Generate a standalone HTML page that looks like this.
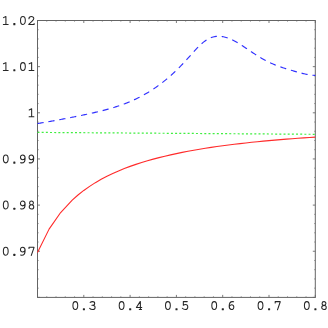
<!DOCTYPE html>
<html><head><meta charset="utf-8"><title>plot</title>
<style>
html,body{margin:0;padding:0;background:#fff;}
body{width:328px;height:328px;overflow:hidden;font-family:"Liberation Mono",monospace;}
svg{display:block}
</style></head><body>
<svg width="328" height="328" viewBox="0 0 328 328">
<rect width="328" height="328" fill="#fff"/>
<path d="M37.50,297.4 v-2.5 M37.50,20.5 v2.5 M83.80,297.4 v-2.5 M83.80,20.5 v2.5 M130.10,297.4 v-2.5 M130.10,20.5 v2.5 M176.40,297.4 v-2.5 M176.40,20.5 v2.5 M222.70,297.4 v-2.5 M222.70,20.5 v2.5 M269.00,297.4 v-2.5 M269.00,20.5 v2.5 M315.30,297.4 v-2.5 M315.30,20.5 v2.5 M37.5,297.40 h2.5 M315.3,297.40 h-2.5 M37.5,251.25 h2.5 M315.3,251.25 h-2.5 M37.5,205.10 h2.5 M315.3,205.10 h-2.5 M37.5,158.95 h2.5 M315.3,158.95 h-2.5 M37.5,112.80 h2.5 M315.3,112.80 h-2.5 M37.5,66.65 h2.5 M315.3,66.65 h-2.5 M37.5,20.50 h2.5 M315.3,20.50 h-2.5" stroke="#646464" stroke-width="0.85" fill="none"/>
<path d="M46.76,297.4 v-1.3 M46.76,20.5 v1.3 M56.02,297.4 v-1.3 M56.02,20.5 v1.3 M65.28,297.4 v-1.3 M65.28,20.5 v1.3 M74.54,297.4 v-1.3 M74.54,20.5 v1.3 M93.06,297.4 v-1.3 M93.06,20.5 v1.3 M102.32,297.4 v-1.3 M102.32,20.5 v1.3 M111.58,297.4 v-1.3 M111.58,20.5 v1.3 M120.84,297.4 v-1.3 M120.84,20.5 v1.3 M139.36,297.4 v-1.3 M139.36,20.5 v1.3 M148.62,297.4 v-1.3 M148.62,20.5 v1.3 M157.88,297.4 v-1.3 M157.88,20.5 v1.3 M167.14,297.4 v-1.3 M167.14,20.5 v1.3 M185.66,297.4 v-1.3 M185.66,20.5 v1.3 M194.92,297.4 v-1.3 M194.92,20.5 v1.3 M204.18,297.4 v-1.3 M204.18,20.5 v1.3 M213.44,297.4 v-1.3 M213.44,20.5 v1.3 M231.96,297.4 v-1.3 M231.96,20.5 v1.3 M241.22,297.4 v-1.3 M241.22,20.5 v1.3 M250.48,297.4 v-1.3 M250.48,20.5 v1.3 M259.74,297.4 v-1.3 M259.74,20.5 v1.3 M278.26,297.4 v-1.3 M278.26,20.5 v1.3 M287.52,297.4 v-1.3 M287.52,20.5 v1.3 M296.78,297.4 v-1.3 M296.78,20.5 v1.3 M306.04,297.4 v-1.3 M306.04,20.5 v1.3 M37.5,288.17 h1.3 M315.3,288.17 h-1.3 M37.5,278.94 h1.3 M315.3,278.94 h-1.3 M37.5,269.71 h1.3 M315.3,269.71 h-1.3 M37.5,260.48 h1.3 M315.3,260.48 h-1.3 M37.5,242.02 h1.3 M315.3,242.02 h-1.3 M37.5,232.79 h1.3 M315.3,232.79 h-1.3 M37.5,223.56 h1.3 M315.3,223.56 h-1.3 M37.5,214.33 h1.3 M315.3,214.33 h-1.3 M37.5,195.87 h1.3 M315.3,195.87 h-1.3 M37.5,186.64 h1.3 M315.3,186.64 h-1.3 M37.5,177.41 h1.3 M315.3,177.41 h-1.3 M37.5,168.18 h1.3 M315.3,168.18 h-1.3 M37.5,149.72 h1.3 M315.3,149.72 h-1.3 M37.5,140.49 h1.3 M315.3,140.49 h-1.3 M37.5,131.26 h1.3 M315.3,131.26 h-1.3 M37.5,122.03 h1.3 M315.3,122.03 h-1.3 M37.5,103.57 h1.3 M315.3,103.57 h-1.3 M37.5,94.34 h1.3 M315.3,94.34 h-1.3 M37.5,85.11 h1.3 M315.3,85.11 h-1.3 M37.5,75.88 h1.3 M315.3,75.88 h-1.3 M37.5,57.42 h1.3 M315.3,57.42 h-1.3 M37.5,48.19 h1.3 M315.3,48.19 h-1.3 M37.5,38.96 h1.3 M315.3,38.96 h-1.3 M37.5,29.73 h1.3 M315.3,29.73 h-1.3" stroke="#646464" stroke-width="0.55" fill="none"/>
<rect x="37.5" y="20.5" width="277.8" height="276.9" fill="none" stroke="#646464" stroke-width="1"/>
<path d="M37.50,252.48 L49.08,229.12 L60.65,212.54 L72.22,200.12 L78.01,194.99 L83.80,190.43 L89.59,186.34 L95.37,182.65 L101.16,179.30 L106.95,176.26 L112.74,173.48 L118.52,170.92 L124.31,168.56 L130.10,166.39 L135.89,164.37 L141.67,162.50 L147.46,160.76 L153.25,159.13 L159.04,157.61 L164.82,156.19 L170.61,154.85 L176.40,153.59 L182.19,152.41 L187.97,151.29 L193.76,150.24 L199.55,149.24 L205.34,148.30 L211.12,147.41 L216.91,146.57 L222.70,145.77 L228.49,145.01 L234.27,144.28 L240.06,143.60 L245.85,142.94 L251.64,142.32 L257.42,141.73 L263.21,141.16 L269.00,140.62 L274.79,140.11 L280.57,139.62 L286.36,139.15 L292.15,138.70 L297.94,138.27 L303.73,137.87 L309.51,137.48 L315.30,137.10" stroke="#ff2a2a" stroke-width="1.1" fill="none" stroke-linejoin="round"/>
<path d="M37.50,123.50 L38.43,123.36 L39.36,123.21 L40.29,123.06 L41.22,122.91 L42.15,122.76 L43.07,122.61 L44.00,122.45 L44.93,122.30 L45.86,122.14 L46.79,121.98 L47.72,121.82 L48.65,121.66 L49.58,121.49 L50.51,121.33 L51.44,121.16 L52.37,121.00 L53.29,120.83 L54.22,120.66 L55.15,120.49 L56.08,120.32 L57.01,120.15 L57.94,119.98 L58.87,119.80 L59.80,119.63 L60.73,119.46 L61.66,119.28 L62.59,119.11 L63.51,118.93 L64.44,118.75 L65.37,118.58 L66.30,118.40 L67.23,118.22 L68.16,118.04 L69.09,117.86 L70.02,117.68 L70.95,117.49 L71.88,117.31 L72.81,117.13 L73.73,116.94 L74.66,116.76 L75.59,116.57 L76.52,116.39 L77.45,116.20 L78.38,116.01 L79.31,115.82 L80.24,115.63 L81.17,115.44 L82.10,115.25 L83.03,115.05 L83.95,114.86 L84.88,114.66 L85.81,114.47 L86.74,114.27 L87.67,114.07 L88.60,113.86 L89.53,113.66 L90.46,113.46 L91.39,113.25 L92.32,113.04 L93.25,112.83 L94.17,112.62 L95.10,112.40 L96.03,112.18 L96.96,111.97 L97.89,111.74 L98.82,111.52 L99.75,111.29 L100.68,111.06 L101.61,110.83 L102.54,110.60 L103.47,110.36 L104.39,110.12 L105.32,109.87 L106.25,109.62 L107.18,109.37 L108.11,109.11 L109.04,108.86 L109.97,108.59 L110.90,108.32 L111.83,108.05 L112.76,107.78 L113.69,107.49 L114.62,107.21 L115.54,106.92 L116.47,106.62 L117.40,106.32 L118.33,106.01 L119.26,105.70 L120.19,105.38 L121.12,105.06 L122.05,104.73 L122.98,104.39 L123.91,104.05 L124.84,103.70 L125.76,103.35 L126.69,102.99 L127.62,102.62 L128.55,102.24 L129.48,101.85 L130.41,101.46 L131.34,101.06 L132.27,100.66 L133.20,100.24 L134.13,99.82 L135.06,99.39 L135.98,98.95 L136.91,98.50 L137.84,98.05 L138.77,97.58 L139.70,97.11 L140.63,96.63 L141.56,96.14 L142.49,95.64 L143.42,95.13 L144.35,94.61 L145.28,94.08 L146.20,93.54 L147.13,93.00 L148.06,92.44 L148.99,91.87 L149.92,91.30 L150.85,90.71 L151.78,90.11 L152.71,89.50 L153.64,88.89 L154.57,88.26 L155.50,87.62 L156.42,86.97 L157.35,86.31 L158.28,85.64 L159.21,84.96 L160.14,84.27 L161.07,83.57 L162.00,82.85 L162.93,82.13 L163.86,81.39 L164.79,80.64 L165.72,79.88 L166.64,79.11 L167.57,78.33 L168.50,77.54 L169.43,76.73 L170.36,75.92 L171.29,75.09 L172.22,74.25 L173.15,73.40 L174.08,72.54 L175.01,71.66 L175.94,70.77 L176.86,69.88 L177.79,68.97 L178.72,68.04 L179.65,67.11 L180.58,66.16 L181.51,65.20 L182.44,64.23 L183.37,63.25 L184.30,62.26 L185.23,61.25 L186.16,60.24 L187.08,59.21 L188.01,58.18 L188.94,57.14 L189.87,56.10 L190.80,55.06 L191.73,54.01 L192.66,52.97 L193.59,51.94 L194.52,50.91 L195.45,49.90 L196.38,48.90 L197.30,47.92 L198.23,46.96 L199.16,46.03 L200.09,45.13 L201.02,44.27 L201.95,43.44 L202.88,42.65 L203.81,41.90 L204.74,41.20 L205.67,40.54 L206.60,39.93 L207.52,39.36 L208.45,38.84 L209.38,38.37 L210.31,37.95 L211.24,37.58 L212.17,37.25 L213.10,36.98 L214.03,36.75 L214.96,36.56 L215.89,36.42 L216.82,36.33 L217.74,36.27 L218.67,36.26 L219.60,36.28 L220.53,36.35 L221.46,36.45 L222.39,36.59 L223.32,36.76 L224.25,36.96 L225.18,37.20 L226.11,37.47 L227.04,37.76 L227.96,38.09 L228.89,38.44 L229.82,38.82 L230.75,39.22 L231.68,39.64 L232.61,40.09 L233.54,40.56 L234.47,41.04 L235.40,41.55 L236.33,42.07 L237.26,42.61 L238.18,43.16 L239.11,43.73 L240.04,44.30 L240.97,44.89 L241.90,45.49 L242.83,46.09 L243.76,46.70 L244.69,47.32 L245.62,47.94 L246.55,48.56 L247.48,49.18 L248.41,49.81 L249.33,50.44 L250.26,51.06 L251.19,51.68 L252.12,52.30 L253.05,52.91 L253.98,53.52 L254.91,54.13 L255.84,54.72 L256.77,55.31 L257.70,55.90 L258.63,56.47 L259.55,57.04 L260.48,57.59 L261.41,58.14 L262.34,58.67 L263.27,59.20 L264.20,59.71 L265.13,60.22 L266.06,60.71 L266.99,61.19 L267.92,61.66 L268.85,62.11 L269.77,62.56 L270.70,62.99 L271.63,63.42 L272.56,63.83 L273.49,64.23 L274.42,64.62 L275.35,65.00 L276.28,65.36 L277.21,65.72 L278.14,66.07 L279.07,66.41 L279.99,66.74 L280.92,67.06 L281.85,67.38 L282.78,67.69 L283.71,67.99 L284.64,68.29 L285.57,68.58 L286.50,68.87 L287.43,69.15 L288.36,69.44 L289.29,69.72 L290.21,69.99 L291.14,70.27 L292.07,70.54 L293.00,70.81 L293.93,71.08 L294.86,71.34 L295.79,71.60 L296.72,71.86 L297.65,72.12 L298.58,72.37 L299.51,72.62 L300.43,72.87 L301.36,73.11 L302.29,73.34 L303.22,73.57 L304.15,73.79 L305.08,73.99 L306.01,74.19 L306.94,74.38 L307.87,74.56 L308.80,74.72 L309.73,74.87 L310.65,75.00 L311.58,75.12 L312.51,75.21 L313.44,75.29 L314.37,75.34 L315.30,75.36" stroke="#3030ff" stroke-width="1.15" fill="none" stroke-dasharray="6.2 4.87"/>
<path d="M37.5,132.4 L315.3,134.3" stroke="#40ee40" stroke-width="1.2" fill="none" stroke-dasharray="2 2.17"/>
<g fill="none" stroke="#262626" stroke-width="1.05" stroke-linecap="round" stroke-linejoin="round"><path transform="translate(75.32,309.90)" d="M0,-8.3 C1.65,-8.3 2.4,-6.6 2.4,-4.33 C2.4,-2.05 1.65,-0.35 0,-0.35 C-1.65,-0.35 -2.4,-2.05 -2.4,-4.33 C-2.4,-6.6 -1.65,-8.3 0,-8.3 Z"/><rect x="82.85" y="308.25" width="2.1" height="2.1" rx="0.5" fill="#262626" stroke="none"/><path transform="translate(92.48,309.90)" d="M-2.3,-7.5 C-1.7,-8.0 -0.9,-8.3 0,-8.3 C1.3,-8.3 2.2,-7.5 2.2,-6.45 C2.2,-5.4 1.3,-4.65 0,-4.65 L-0.6,-4.65 M0,-4.65 C1.5,-4.65 2.6,-3.8 2.6,-2.5 C2.6,-1.2 1.5,-0.35 0,-0.35 C-1.1,-0.35 -2.1,-0.7 -2.8,-1.5"/><path transform="translate(121.62,309.90)" d="M0,-8.3 C1.65,-8.3 2.4,-6.6 2.4,-4.33 C2.4,-2.05 1.65,-0.35 0,-0.35 C-1.65,-0.35 -2.4,-2.05 -2.4,-4.33 C-2.4,-6.6 -1.65,-8.3 0,-8.3 Z"/><rect x="129.15" y="308.25" width="2.1" height="2.1" rx="0.5" fill="#262626" stroke="none"/><path transform="translate(138.78,309.90)" d="M1.6,-0.35 L1.6,-8.3 L1.35,-8.3 L-2.4,-2.45 L3.0,-2.45 M0.5,-0.35 L2.8,-0.35"/><path transform="translate(167.92,309.90)" d="M0,-8.3 C1.65,-8.3 2.4,-6.6 2.4,-4.33 C2.4,-2.05 1.65,-0.35 0,-0.35 C-1.65,-0.35 -2.4,-2.05 -2.4,-4.33 C-2.4,-6.6 -1.65,-8.3 0,-8.3 Z"/><rect x="175.45" y="308.25" width="2.1" height="2.1" rx="0.5" fill="#262626" stroke="none"/><path transform="translate(185.08,309.90)" d="M2.2,-8.3 L-1.75,-8.3 L-1.75,-4.6 C-1.1,-5.15 -0.3,-5.45 0.45,-5.45 C1.85,-5.45 2.7,-4.4 2.7,-2.95 C2.7,-1.5 1.7,-0.35 0.2,-0.35 C-1.0,-0.35 -2.0,-0.8 -2.75,-1.65"/><path transform="translate(214.22,309.90)" d="M0,-8.3 C1.65,-8.3 2.4,-6.6 2.4,-4.33 C2.4,-2.05 1.65,-0.35 0,-0.35 C-1.65,-0.35 -2.4,-2.05 -2.4,-4.33 C-2.4,-6.6 -1.65,-8.3 0,-8.3 Z"/><rect x="221.75" y="308.25" width="2.1" height="2.1" rx="0.5" fill="#262626" stroke="none"/><path transform="translate(231.38,309.90)" d="M2.25,-8.1 C1.9,-8.25 1.5,-8.3 1.1,-8.3 C-0.9,-8.3 -2.2,-6.3 -2.2,-3.6 C-2.2,-1.5 -1.3,-0.35 0.2,-0.35 C1.55,-0.35 2.45,-1.4 2.45,-2.8 C2.45,-4.2 1.55,-5.15 0.3,-5.15 C-0.9,-5.15 -1.9,-4.3 -2.2,-3.0"/><path transform="translate(260.52,309.90)" d="M0,-8.3 C1.65,-8.3 2.4,-6.6 2.4,-4.33 C2.4,-2.05 1.65,-0.35 0,-0.35 C-1.65,-0.35 -2.4,-2.05 -2.4,-4.33 C-2.4,-6.6 -1.65,-8.3 0,-8.3 Z"/><rect x="268.05" y="308.25" width="2.1" height="2.1" rx="0.5" fill="#262626" stroke="none"/><path transform="translate(277.68,309.90)" d="M-2.5,-7.0 L-2.5,-8.3 L2.5,-8.3 L2.5,-7.9 L-0.2,-0.1"/><path transform="translate(306.82,309.90)" d="M0,-8.3 C1.65,-8.3 2.4,-6.6 2.4,-4.33 C2.4,-2.05 1.65,-0.35 0,-0.35 C-1.65,-0.35 -2.4,-2.05 -2.4,-4.33 C-2.4,-6.6 -1.65,-8.3 0,-8.3 Z"/><rect x="314.35" y="308.25" width="2.1" height="2.1" rx="0.5" fill="#262626" stroke="none"/><path transform="translate(323.98,309.90)" d="M0,-4.55 C-1.15,-4.55 -1.9,-5.35 -1.9,-6.42 C-1.9,-7.5 -1.15,-8.3 0,-8.3 C1.15,-8.3 1.9,-7.5 1.9,-6.42 C1.9,-5.35 1.15,-4.55 0,-4.55 C1.3,-4.55 2.25,-3.65 2.25,-2.45 C2.25,-1.25 1.3,-0.35 0,-0.35 C-1.3,-0.35 -2.25,-1.25 -2.25,-2.45 C-2.25,-3.65 -1.3,-4.55 0,-4.55"/><path transform="translate(5.76,24.75)" d="M-2.3,-7.1 L0.15,-8.3 L0.15,-0.35 M-2.4,-0.35 L2.4,-0.35"/><rect x="13.29" y="23.10" width="2.1" height="2.1" rx="0.5" fill="#262626" stroke="none"/><path transform="translate(22.92,24.75)" d="M0,-8.3 C1.65,-8.3 2.4,-6.6 2.4,-4.33 C2.4,-2.05 1.65,-0.35 0,-0.35 C-1.65,-0.35 -2.4,-2.05 -2.4,-4.33 C-2.4,-6.6 -1.65,-8.3 0,-8.3 Z"/><path transform="translate(31.50,24.75)" d="M-2.55,-6.1 C-2.55,-7.4 -1.45,-8.3 -0.15,-8.3 C1.25,-8.3 2.3,-7.4 2.3,-6.15 C2.3,-5.1 1.6,-4.4 0.4,-3.3 L-2.75,-0.45 L-2.75,-0.35 L2.6,-0.35 L2.6,-1.3"/><path transform="translate(5.76,70.90)" d="M-2.3,-7.1 L0.15,-8.3 L0.15,-0.35 M-2.4,-0.35 L2.4,-0.35"/><rect x="13.29" y="69.25" width="2.1" height="2.1" rx="0.5" fill="#262626" stroke="none"/><path transform="translate(22.92,70.90)" d="M0,-8.3 C1.65,-8.3 2.4,-6.6 2.4,-4.33 C2.4,-2.05 1.65,-0.35 0,-0.35 C-1.65,-0.35 -2.4,-2.05 -2.4,-4.33 C-2.4,-6.6 -1.65,-8.3 0,-8.3 Z"/><path transform="translate(31.50,70.90)" d="M-2.3,-7.1 L0.15,-8.3 L0.15,-0.35 M-2.4,-0.35 L2.4,-0.35"/><path transform="translate(31.50,117.05)" d="M-2.3,-7.1 L0.15,-8.3 L0.15,-0.35 M-2.4,-0.35 L2.4,-0.35"/><path transform="translate(5.76,163.20)" d="M0,-8.3 C1.65,-8.3 2.4,-6.6 2.4,-4.33 C2.4,-2.05 1.65,-0.35 0,-0.35 C-1.65,-0.35 -2.4,-2.05 -2.4,-4.33 C-2.4,-6.6 -1.65,-8.3 0,-8.3 Z"/><rect x="13.29" y="161.55" width="2.1" height="2.1" rx="0.5" fill="#262626" stroke="none"/><path transform="translate(22.92,163.20)" d="M -2.25,-0.55 C -1.90,-0.40 -1.50,-0.35 -1.10,-0.35 C 0.90,-0.35 2.20,-2.35 2.20,-5.05 C 2.20,-7.15 1.30,-8.30 -0.20,-8.30 C -1.55,-8.30 -2.45,-7.25 -2.45,-5.85 C -2.45,-4.45 -1.55,-3.50 -0.30,-3.50 C 0.90,-3.50 1.90,-4.35 2.20,-5.65"/><path transform="translate(31.50,163.20)" d="M -2.25,-0.55 C -1.90,-0.40 -1.50,-0.35 -1.10,-0.35 C 0.90,-0.35 2.20,-2.35 2.20,-5.05 C 2.20,-7.15 1.30,-8.30 -0.20,-8.30 C -1.55,-8.30 -2.45,-7.25 -2.45,-5.85 C -2.45,-4.45 -1.55,-3.50 -0.30,-3.50 C 0.90,-3.50 1.90,-4.35 2.20,-5.65"/><path transform="translate(5.76,209.35)" d="M0,-8.3 C1.65,-8.3 2.4,-6.6 2.4,-4.33 C2.4,-2.05 1.65,-0.35 0,-0.35 C-1.65,-0.35 -2.4,-2.05 -2.4,-4.33 C-2.4,-6.6 -1.65,-8.3 0,-8.3 Z"/><rect x="13.29" y="207.70" width="2.1" height="2.1" rx="0.5" fill="#262626" stroke="none"/><path transform="translate(22.92,209.35)" d="M -2.25,-0.55 C -1.90,-0.40 -1.50,-0.35 -1.10,-0.35 C 0.90,-0.35 2.20,-2.35 2.20,-5.05 C 2.20,-7.15 1.30,-8.30 -0.20,-8.30 C -1.55,-8.30 -2.45,-7.25 -2.45,-5.85 C -2.45,-4.45 -1.55,-3.50 -0.30,-3.50 C 0.90,-3.50 1.90,-4.35 2.20,-5.65"/><path transform="translate(31.50,209.35)" d="M0,-4.55 C-1.15,-4.55 -1.9,-5.35 -1.9,-6.42 C-1.9,-7.5 -1.15,-8.3 0,-8.3 C1.15,-8.3 1.9,-7.5 1.9,-6.42 C1.9,-5.35 1.15,-4.55 0,-4.55 C1.3,-4.55 2.25,-3.65 2.25,-2.45 C2.25,-1.25 1.3,-0.35 0,-0.35 C-1.3,-0.35 -2.25,-1.25 -2.25,-2.45 C-2.25,-3.65 -1.3,-4.55 0,-4.55"/><path transform="translate(5.76,255.50)" d="M0,-8.3 C1.65,-8.3 2.4,-6.6 2.4,-4.33 C2.4,-2.05 1.65,-0.35 0,-0.35 C-1.65,-0.35 -2.4,-2.05 -2.4,-4.33 C-2.4,-6.6 -1.65,-8.3 0,-8.3 Z"/><rect x="13.29" y="253.85" width="2.1" height="2.1" rx="0.5" fill="#262626" stroke="none"/><path transform="translate(22.92,255.50)" d="M -2.25,-0.55 C -1.90,-0.40 -1.50,-0.35 -1.10,-0.35 C 0.90,-0.35 2.20,-2.35 2.20,-5.05 C 2.20,-7.15 1.30,-8.30 -0.20,-8.30 C -1.55,-8.30 -2.45,-7.25 -2.45,-5.85 C -2.45,-4.45 -1.55,-3.50 -0.30,-3.50 C 0.90,-3.50 1.90,-4.35 2.20,-5.65"/><path transform="translate(31.50,255.50)" d="M-2.5,-7.0 L-2.5,-8.3 L2.5,-8.3 L2.5,-7.9 L-0.2,-0.1"/></g>
</svg>
</body></html>
